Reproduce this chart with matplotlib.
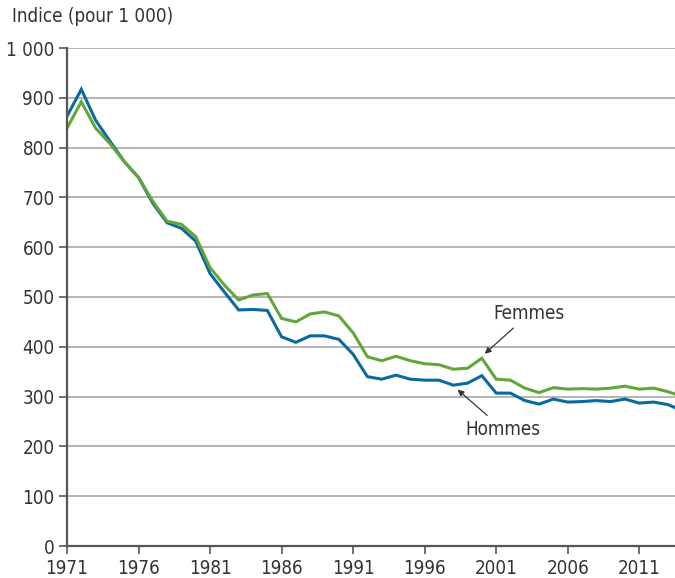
import matplotlib
matplotlib.use('Agg')
import matplotlib.pyplot as plt

# years and index values (per 1 000)
years = list(range(1971, 2015))
hommes = [863, 917, 855, 813, 772, 740, 688, 649, 638, 612,
          547, 510, 474, 475, 473, 420, 409, 422, 422, 415,
          385, 340, 335, 343, 335, 333, 333, 323, 327, 342,
          307, 307, 292, 285, 295, 289, 290, 292, 290, 295,
          287, 289, 284, 272]
femmes = [839, 892, 839, 808, 772, 740, 692, 652, 646, 621,
          559, 524, 494, 504, 507, 457, 450, 466, 470, 462,
          428, 380, 372, 381, 372, 366, 364, 355, 357, 377,
          335, 333, 317, 308, 318, 315, 316, 315, 317, 321,
          315, 317, 310, 300]

xticks = list(range(1971, 2012, 5))
yticks = list(range(0, 1001, 100))
ylabels = ['1 000' if v == 1000 else str(v) for v in yticks]

plt.rcParams['font.family'] = ['DejaVu Sans']
plt.rcParams['font.stretch'] = 'condensed'
fs = 13.5

blue = '#0b6a9c'
green = '#62a63b'

fig = plt.figure(figsize=(6.75, 5.78), dpi=100)
ax = fig.add_axes([67/675, 32/578, 1 - 67/675, (546-48)/578])

ax.plot(years, hommes, color=blue, lw=2.2, solid_joinstyle='miter')
ax.plot(years, femmes, color=green, lw=2.2, solid_joinstyle='miter')

ax.set_xlim(1971, 2013.5)
ax.set_ylim(0, 1000)
ax.set_xticks(xticks)
ax.set_yticks(yticks)
ax.set_yticklabels(ylabels)
ax.yaxis.grid(True, color='#a8a8a8', lw=1.2)
ax.set_axisbelow(True)

for s in ['top', 'right']:
    ax.spines[s].set_visible(False)
for s in ['left', 'bottom']:
    ax.spines[s].set_color('#555555')
    ax.spines[s].set_linewidth(1.6)
ax.tick_params(axis='both', colors='#555555', labelcolor='#333333', length=6, width=1.2, labelsize=fs)
ax.tick_params(axis='y', pad=3)
ax.tick_params(axis='x', pad=3)

ax.annotate('Femmes', xy=(2000.2, 386), xytext=(2003.3, 466),
            ha='center', va='center', fontsize=fs, color='#333333',
            arrowprops=dict(arrowstyle='-|>', color='#333333', lw=0.9,
                            mutation_scale=9, shrinkA=2, shrinkB=0))
ax.annotate('Hommes', xy=(1998.3, 314), xytext=(2001.5, 234),
            ha='center', va='center', fontsize=fs, color='#333333',
            arrowprops=dict(arrowstyle='-|>', color='#333333', lw=0.9,
                            mutation_scale=9, shrinkA=2, shrinkB=0))

fig.text(12/675, 1 - 7/578, 'Indice (pour 1 000)', ha='left', va='top',
         fontsize=fs, color='#333333')

plt.savefig('out.png', dpi=100)
